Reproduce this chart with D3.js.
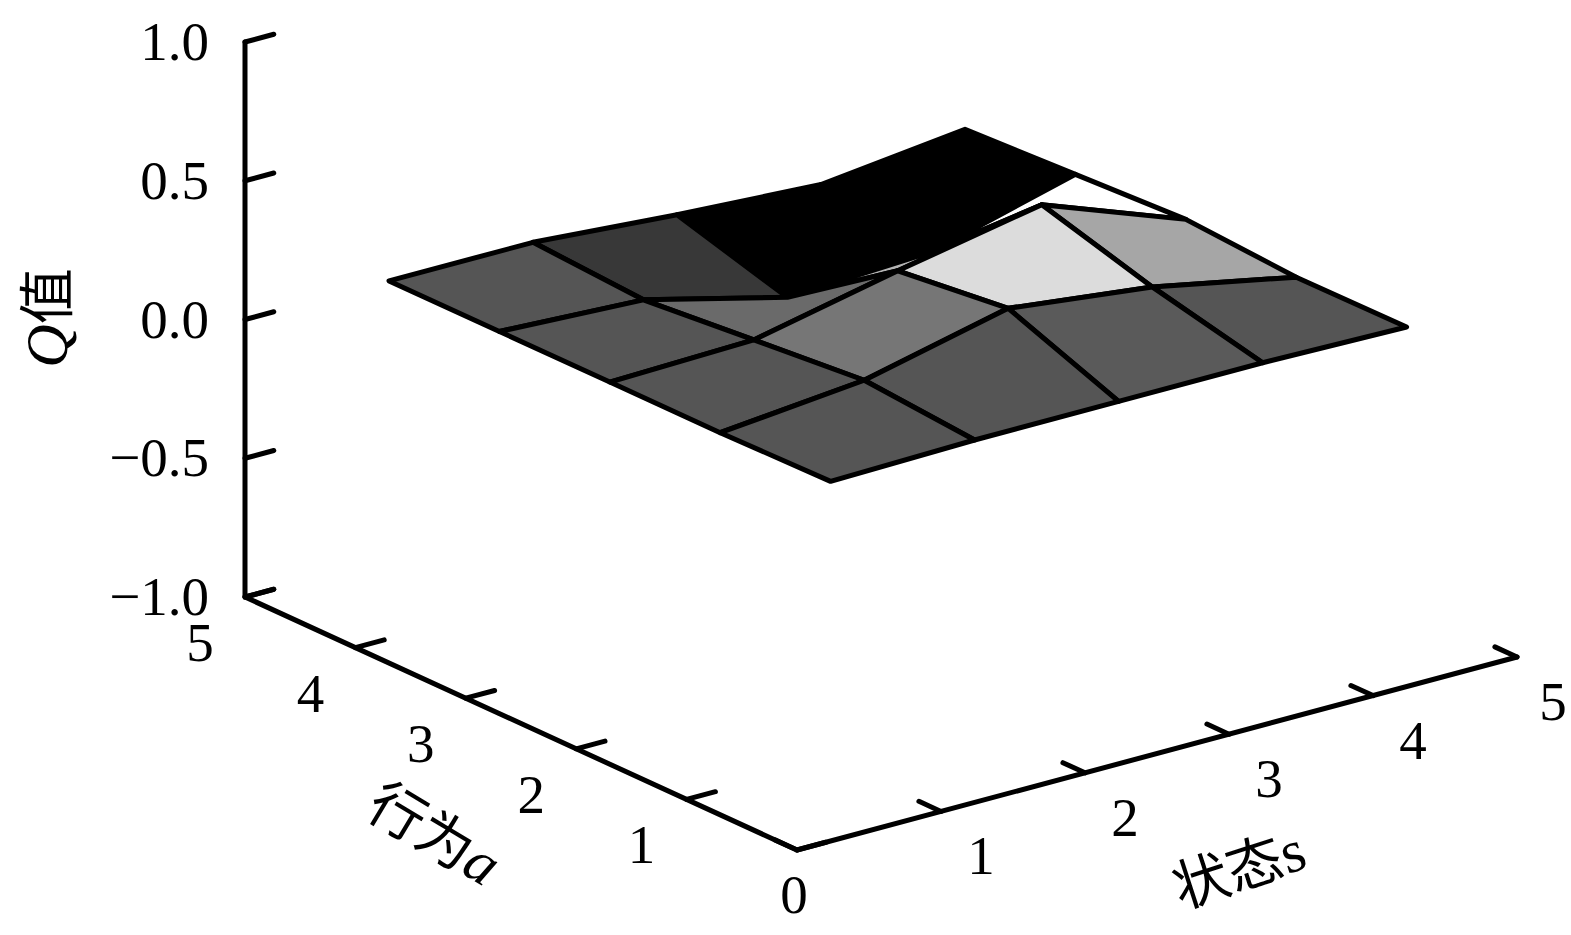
<!DOCTYPE html>
<html><head><meta charset="utf-8">
<script src="https://cdn.jsdelivr.net/npm/d3@7"></script>
<style>
html,body{margin:0;padding:0;background:#fff;}
svg{display:block;}
text{font-family:"Liberation Serif","Noto Sans CJK SC",serif;fill:#000;}
.cjk{font-family:"Noto Sans CJK SC",sans-serif;}
</style></head><body>
<svg id="chart" width="1571" height="935"></svg>
<script>
// Data
const stateValues = [1, 2, 3, 4, 5];
const actionValues = [1, 2, 3, 4, 5];
// Q value at each grid node: one row per action, one column per state
const qAction1 = [0.007, 0.017, 0.017, 0.017, 0.007];
const qAction2 = [0.00, 0.05, 0.17, 0.108, 0.004];
const qAction3 = [0.00, 0.013, 0.123, 0.222, 0.03];
const qAction4 = [0.00, -0.025, -0.155, -0.13, 0.01];
const qAction5 = [0.00, 0.00, -0.04, -0.07, -0.01];
const qRows = [qAction1, qAction2, qAction3, qAction4, qAction5];
// Gray level of each surface cell (action band, state band)
const shadeAction1 = [0x55, 0x55, 0x5a, 0x55];
const shadeAction2 = [0x55, 0x76, 0xdc, 0xa6];
const shadeAction3 = [0x55, 0x6a, 0xb4, 0xff];
const shadeAction4 = [0x55, 0x38, 0x00, 0x00];
const shadeRows = [shadeAction1, shadeAction2, shadeAction3, shadeAction4];
const stateTicks = [0, 1, 2, 3, 4, 5];
const actionTicks = [0, 1, 2, 3, 4, 5];
const qTicks = [-1, -0.5, 0, 0.5, 1];
const qTickLabels = ["\u22121.0", "\u22120.5", "0.0", "0.5", "1.0"];

// Oblique 3-D projection built from linear scales
const originX = 797, originY = 850;
const sx = d3.scaleLinear().domain([0, 5]).range([0, 720]);
const sy = d3.scaleLinear().domain([0, 5]).range([0, -193]);
const ax = d3.scaleLinear().domain([0, 5]).range([0, -552]);
const ay = d3.scaleLinear().domain([0, 5]).range([0, -253]);
const zy = d3.scaleLinear().domain([-1, 1]).range([0, -555]);
const project = (s, a, z) => [originX + sx(s) + ax(a), originY + sy(s) + ay(a) + zy(z)];

const svg = d3.select("#chart");
const line = d3.line();
const axisW = 5, gridW = 5, tickLen = 0.2;

// Surface, painted far to near
const cells = [];
for (let i = actionValues.length - 2; i >= 0; i--) {
  for (let j = stateValues.length - 2; j >= 0; j--) {
    const n = (ai, si) => project(stateValues[si], actionValues[ai], qRows[ai][si]);
    cells.push({ pts: [n(i, j), n(i, j + 1), n(i + 1, j + 1), n(i + 1, j)], g: shadeRows[i][j] });
  }
}
svg.append("g").selectAll("path").data(cells).join("path")
  .attr("d", d => line(d.pts) + "Z")
  .attr("fill", d => d3.rgb(d.g, d.g, d.g).formatHex())
  .attr("stroke", "#000").attr("stroke-width", gridW).attr("stroke-linejoin", "round");

// Axes
const axes = svg.append("g").attr("fill", "none").attr("stroke", "#000")
  .attr("stroke-width", axisW).attr("stroke-linejoin", "round").attr("stroke-linecap", "round");
axes.append("path").attr("d", line([project(0, 5, 1), project(0, 5, -1), project(0, 0, -1), project(5, 0, -1)]));
qTicks.forEach(q => axes.append("path").attr("d", line([project(0, 5, q), project(tickLen, 5, q)])));
actionTicks.forEach(a => axes.append("path").attr("d", line([project(0, a, -1), project(tickLen, a, -1)])));
stateTicks.forEach(s => axes.append("path").attr("d", line([project(s, 0, -1), project(s, tickLen, -1)])));

// Tick labels
const fs = 55;
svg.append("g").selectAll("text").data(qTicks).join("text")
  .attr("x", 209).attr("y", q => project(0, 5, q)[1] + 18)
  .attr("text-anchor", "end").attr("font-size", fs)
  .text((q, i) => qTickLabels[i]);
svg.append("g").selectAll("text").data(actionTicks.slice(1)).join("text")
  .attr("x", a => project(0, a, -1)[0] - 45).attr("y", a => project(0, a, -1)[1] + 64)
  .attr("text-anchor", "middle").attr("font-size", fs).text(a => a);
svg.append("g").selectAll("text").data(stateTicks).join("text")
  .attr("x", s => project(s, 0, -1)[0] + (s === 0 ? -3 : s === 5 ? 36 : 40))
  .attr("y", s => project(s, 0, -1)[1] + 63)
  .attr("text-anchor", "middle").attr("font-size", fs).text(s => s);

// Axis titles
function title(x, y, angle) {
  return svg.append("text").attr("transform", `translate(${x},${y}) rotate(${angle})`)
    .attr("text-anchor", "middle").attr("font-size", 60);
}
const tq = title(67, 318, -90);
tq.append("tspan").attr("font-style", "italic").text("Q");
tq.append("tspan").attr("class", "cjk").attr("font-size", 56).text("值");
const ta = title(424, 851, 31);
ta.append("tspan").attr("class", "cjk").attr("font-size", 56).text("行为");
ta.append("tspan").attr("font-style", "italic").text("a");
const ts = title(1245, 888, -18);
ts.append("tspan").attr("class", "cjk").attr("font-size", 56).text("状态");
ts.append("tspan").text("s");
</script>
</body></html>
